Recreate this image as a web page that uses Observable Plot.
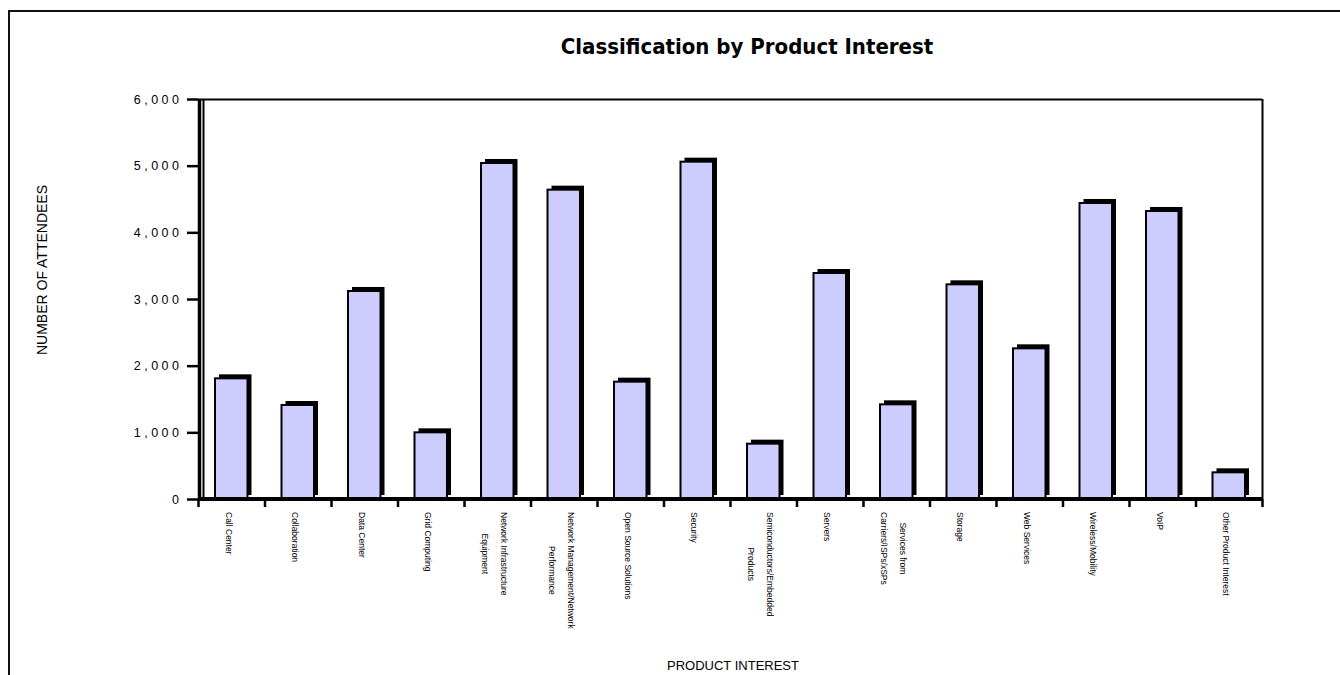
<!DOCTYPE html>
<html>
<head>
<meta charset="utf-8">
<script src="https://cdn.jsdelivr.net/npm/d3@7"></script>
<script src="https://cdn.jsdelivr.net/npm/@observablehq/plot@0.6"></script>
<style>
  html, body { margin: 0; padding: 0; background: #fff; }
  #wrap { position: relative; width: 1340px; height: 675px; overflow: hidden; font-family: Arial, "Liberation Sans", sans-serif; }
  #border { position: absolute; left: 7.5px; top: 9.5px; width: 1400px; height: 800px; border: 2px solid #111; box-sizing: border-box; }
  #chart { position: absolute; left: 0; top: 0; }
  #title { position: absolute; left: 747px; top: 34px; transform: translateX(-50%); white-space: nowrap;
           font-family: "Liberation Sans Narrow", "DejaVu Sans Condensed", Arial, sans-serif; font-weight: bold; font-size: 22px; color: #000; }
  #ytitle { position: absolute; left: 42px; top: 270px; transform: translate(-50%, -50%) rotate(-90deg); white-space: nowrap; font-size: 14px; color: #000; }
  #xtitle { position: absolute; left: 733px; top: 658px; transform: translateX(-50%); white-space: nowrap; font-size: 13px; color: #000; }
  g[aria-label="y-axis tick label"] text { letter-spacing: 3.5px; }
</style>
</head>
<body>
<div id="wrap">
  <div id="border"></div>
  <div id="chart"></div>
  <div id="title">Classification by Product Interest</div>
  <div id="ytitle">NUMBER OF ATTENDEES</div>
  <div id="xtitle">PRODUCT INTEREST</div>
</div>
<script>
// Product interest categories, in display order
const categories = [
  "Call Center",
  "Collaboration",
  "Data Center",
  "Grid Computing",
  "Network Infrastructure Equipment",
  "Network Management/Network Performance",
  "Open Source Solutions",
  "Security",
  "Semiconductors/Embedded Products",
  "Servers",
  "Services from Carriers/ISPs/xSPs",
  "Storage",
  "Web Services",
  "Wireless/Mobility",
  "VoIP",
  "Other Product Interest"
];

// Wrapped tick labels for the category axis
const tickLabels = [
  "Call Center",
  "Collaboration",
  "Data Center",
  "Grid Computing",
  "Network Infrastructure\nEquipment",
  "Network Management/Network\nPerformance",
  "Open Source Solutions",
  "Security",
  "Semiconductors/Embedded\nProducts",
  "Servers",
  "Services from\nCarriers/ISPs/xSPs",
  "Storage",
  "Web Services",
  "Wireless/Mobility",
  "VoIP",
  "Other Product Interest"
];

// Number of attendees per category
const attendees = [1810, 1410, 3120, 1000, 5040, 4640, 1760, 5060, 830, 3390, 1420, 3220, 2260, 4440, 4320, 400];

// Value axis ticks
const yTicks = [0, 1000, 2000, 3000, 4000, 5000, 6000];

const data = categories.map((category, i) => ({category, attendees: attendees[i]}));

const W = 1340, H = 675;
const mL = 198, mR = 78, mT = 99, mB = 176;
const bw = (W - mL - mR) / categories.length;
const inset = 17;   // gap on each side of a bar within its band
const depth = 4;    // extrusion of the 3-D bars

// measure label lines so each wrapped label block starts just below the axis
const ctx = document.createElement("canvas").getContext("2d");
const labelSize = 8.5;
ctx.font = `${labelSize}px Arial`;

const labelMarks = categories.map((c, i) => {
  const lines = tickLabels[i].split("\n");
  const half = Math.max(...lines.map((l) => ctx.measureText(l).width)) / 2;
  return Plot.text([c], {
    x: (d) => d,
    frameAnchor: "bottom",
    dy: 12.5 + half,
    text: () => tickLabels[i],
    rotate: 90,
    textAnchor: "middle",
    lineAnchor: "middle",
    lineHeight: 2.2,
    fontSize: labelSize,
    fontFamily: "Arial, 'Liberation Sans', sans-serif",
    fill: "#000"
  });
});

const chart = Plot.plot({
  width: W,
  height: H,
  marginLeft: mL,
  marginRight: mR,
  marginTop: mT,
  marginBottom: mB,
  style: {background: "transparent", fontFamily: "Arial, 'Liberation Sans', sans-serif", color: "#000"},
  x: {type: "band", domain: categories, padding: 0, round: false, label: null},
  y: {domain: [0, 6000], label: null},
  marks: [
    // extruded depth of each bar (top and right faces)
    Plot.barY(data, {x: "category", y: "attendees", fill: "#000", dx: depth, dy: -depth, insetLeft: inset, insetRight: inset}),
    // front face of each bar
    Plot.barY(data, {x: "category", y: "attendees", fill: "#ccccff", stroke: "#000", strokeWidth: 2, insetLeft: inset, insetRight: inset}),
    // plot frame: top and right edges
    Plot.ruleY([6000], {stroke: "#000", strokeWidth: 2}),
    Plot.ruleX([categories[categories.length - 1]], {stroke: "#000", strokeWidth: 2, dx: bw / 2}),
    // left wall (double line) and floor
    Plot.ruleX([categories[0]], {stroke: "#000", strokeWidth: 3.5, dx: -bw / 2 + 1}),
    Plot.ruleX([categories[0]], {stroke: "#000", strokeWidth: 2, dx: -bw / 2 + 5}),
    Plot.ruleY([0], {stroke: "#000", strokeWidth: 4, dy: -0.5}),
    // value axis
    Plot.axisY({
      ticks: yTicks,
      label: null,
      tickSize: 11,
      tickPadding: 5,
      tickFormat: d3.format(","),
      strokeWidth: 2.5,
      fontSize: 12.5,
      fill: "#000"
    }),
    // category axis: ticks on band boundaries
    Plot.axisX({ticks: categories, label: null, tickSize: 8, tickFormat: () => "", strokeWidth: 2.5, dx: -bw / 2}),
    Plot.axisX({ticks: [categories[categories.length - 1]], label: null, tickSize: 8, tickFormat: () => "", strokeWidth: 2.5, dx: bw / 2}),
    ...labelMarks
  ]
});

document.getElementById("chart").appendChild(chart);
</script>
</body>
</html>
